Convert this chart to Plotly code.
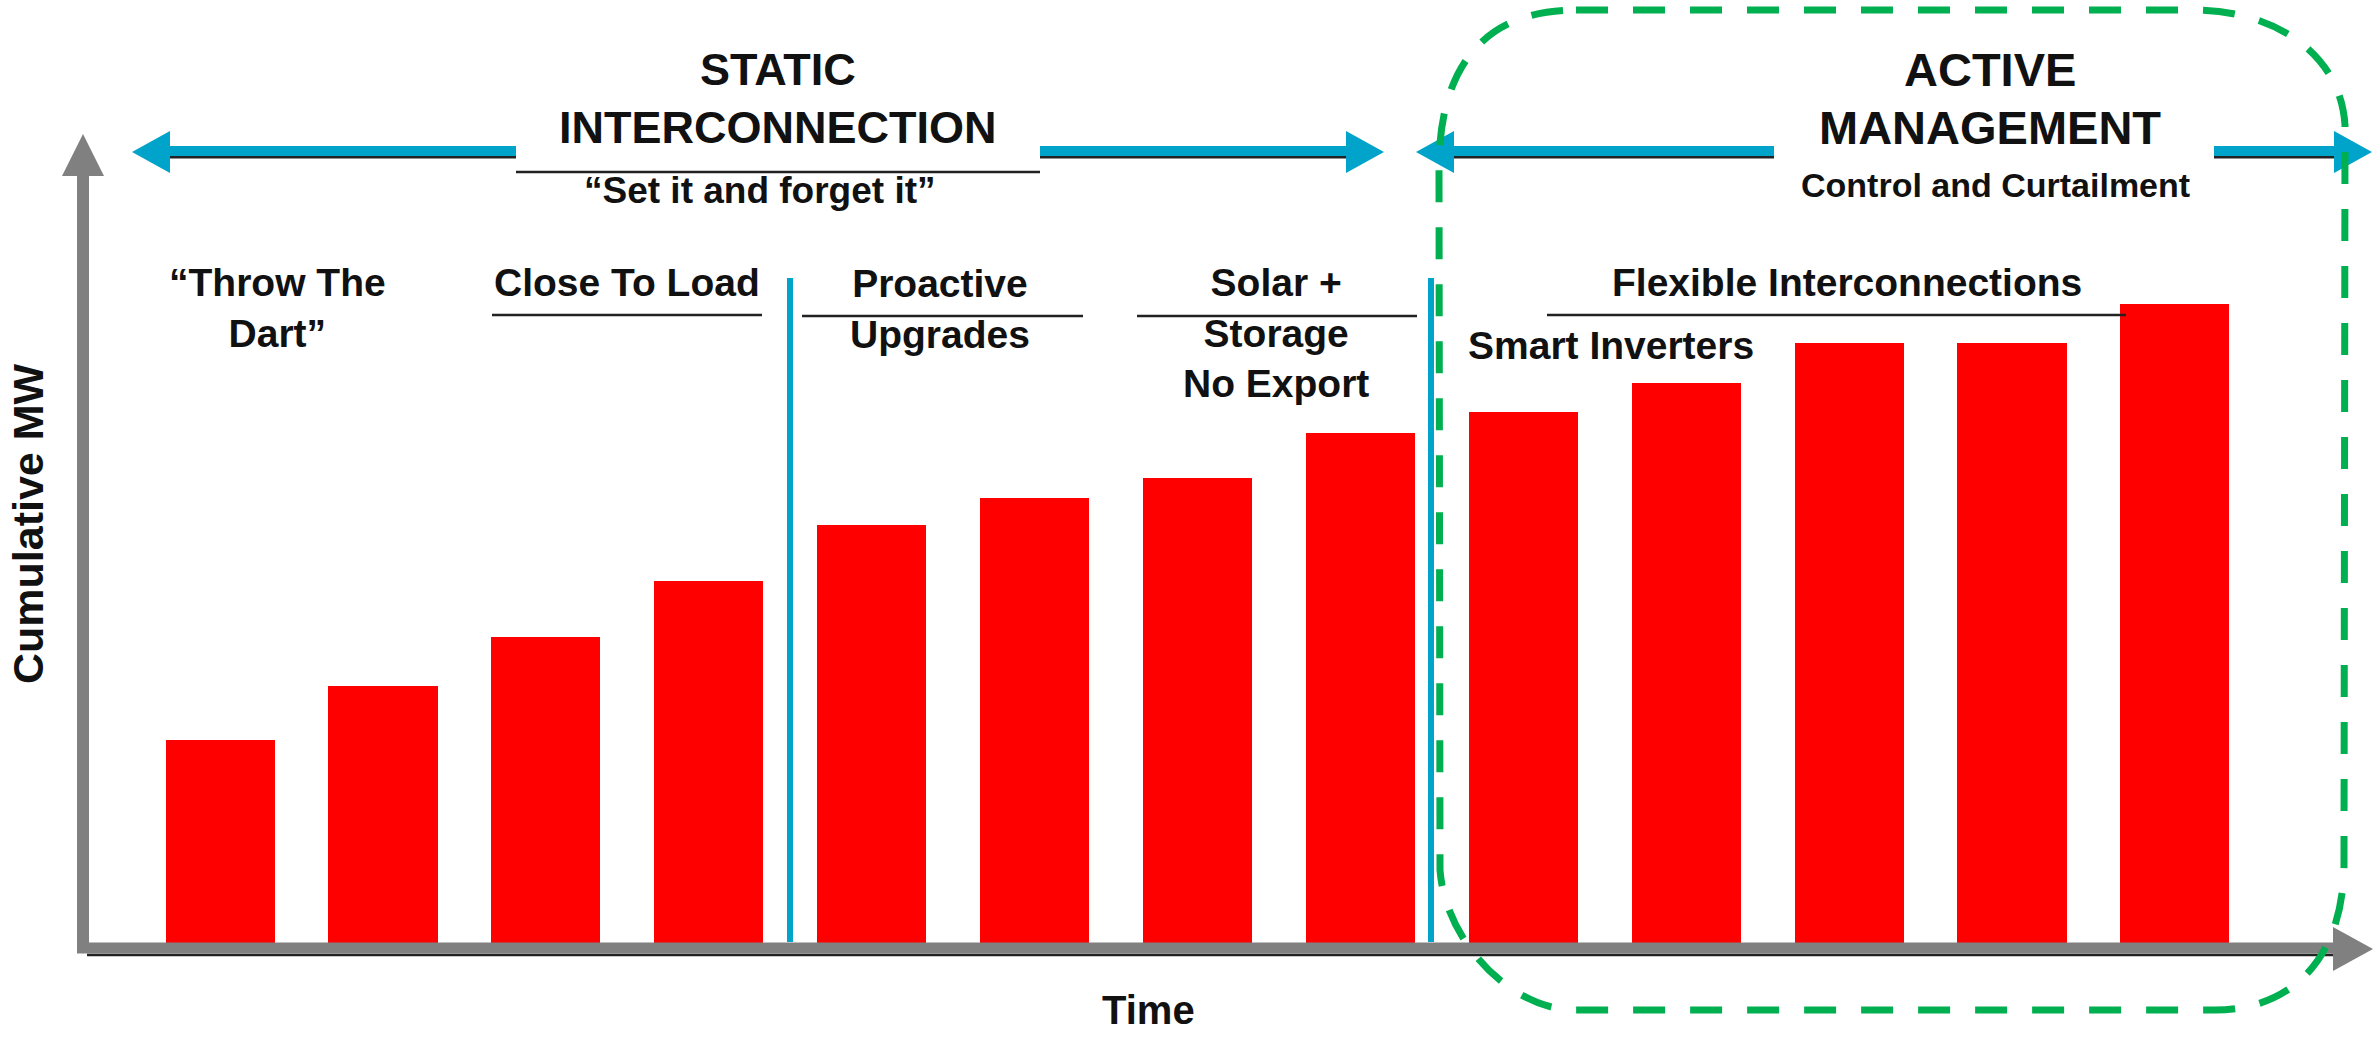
import plotly.graph_objects as go

# ---------------- data ----------------
periods = list(range(1, 14))
cumulative_mw = [25.4, 32.1, 38.3, 45.3, 52.3, 55.6, 58.1, 63.8, 66.4, 70.0, 75.0, 75.0, 79.9]

era_titles = ["<b>STATIC</b>", "<b>INTERCONNECTION</b>", "<b>ACTIVE</b>", "<b>MANAGEMENT</b>"]
era_subtitles = ["<b>“Set it and forget it”</b>", "<b>Control and Curtailment</b>"]
phase_labels = [
    "<b>“Throw The<br>Dart”</b>",
    "<b>Close To Load</b>",
    "<b>Proactive<br>Upgrades</b>",
    "<b>Solar +<br>Storage<br>No Export</b>",
    "<b>Smart Inverters</b>",
    "<b>Flexible Interconnections</b>",
]
y_title = "<b>Cumulative MW</b>"
x_title = "<b>Time</b>"

# ---------------- canvas ----------------
W, H = 2374, 1038
RED = "#FF0000"
BLUE = "#00A3C9"
GREEN = "#00B050"
GRAY = "#808080"
DARK = "#222222"
FONT = "Liberation Sans, Arial, sans-serif"


def X(px):
    return px / W


def Y(py):
    return 1 - py / H


fig = go.Figure()
fig.add_trace(go.Bar(
    x=periods, y=cumulative_mw, width=0.67,
    marker=dict(color=RED, line=dict(width=0)),
    hoverinfo="skip", showlegend=False,
))

shapes = []


def line(x0, y0, x1, y1, color, width):
    shapes.append(dict(type="line", xref="paper", yref="paper",
                       x0=X(x0), y0=Y(y0), x1=X(x1), y1=Y(y1),
                       line=dict(color=color, width=width)))


def tri(pts, color):
    p = "M " + " L ".join(f"{X(a)},{Y(b)}" for a, b in pts) + " Z"
    shapes.append(dict(type="path", xref="paper", yref="paper", path=p,
                       fillcolor=color, line=dict(width=0)))


# gray axes
line(83, 953, 83, 172, GRAY, 12)
tri([(62, 176), (104, 176), (83, 134)], GRAY)
line(77, 948, 2334, 948, GRAY, 11)
line(87, 955, 2334, 955, DARK, 2.5)
tri([(2333, 927), (2333, 971), (2373, 949)], GRAY)

# blue era arrows (with dark shadow)
for x0, x1 in [(168, 516), (1040, 1348), (1452, 1774), (2214, 2336)]:
    line(x0, 157, x1, 157, DARK, 3)
    line(x0, 151, x1, 151, BLUE, 10)
tri([(132, 152), (170, 131), (170, 173)], BLUE)
tri([(1384, 152), (1346, 131), (1346, 173)], BLUE)
tri([(1416, 152), (1454, 131), (1454, 173)], BLUE)
tri([(2372, 152), (2334, 131), (2334, 173)], BLUE)

# blue dividers
line(790, 278, 790, 942, BLUE, 6)
line(1431, 278, 1431, 942, BLUE, 6)

# underlines
line(516, 172, 1040, 172, DARK, 2.5)
line(492, 315, 762, 315, DARK, 2.5)
line(802, 316, 1083, 316, DARK, 2.5)
line(1137, 316, 1417, 316, DARK, 2.5)
line(1547, 315, 2126, 315, DARK, 2.5)

# green dashed rounded region
pts = [
    ("M", [(1576, 10)]),
    ("L", [(2194, 10)]),
    ("C", [(2270, 10), (2340, 50), (2345, 125)]),
    ("L", [(2344, 860)]),
    ("C", [(2345, 960), (2290, 1010), (2215, 1010)]),
    ("L", [(1575, 1010)]),
    ("C", [(1510, 1010), (1445, 940), (1440, 870)]),
    ("L", [(1439, 165)]),
    ("C", [(1440, 60), (1490, 10), (1576, 10)]),
]
path = " ".join(cmd + " " + " ".join(f"{X(a)},{Y(b)}" for a, b in ps) for cmd, ps in pts)
shapes.append(dict(type="path", xref="paper", yref="paper", path=path,
                   line=dict(color=GREEN, width=7, dash="32px,25px")))

annotations = []


def text(s, px, py, size, angle=0):
    annotations.append(dict(text=s, x=X(px), y=Y(py), xref="paper", yref="paper",
                            xanchor="center", yanchor="middle", showarrow=False,
                            textangle=angle, font=dict(family=FONT, size=size, color="#111111")))


text(era_titles[0], 778, 69, 45)
text(era_titles[1], 778, 127, 45)
text(era_titles[2], 1990, 69, 47)
text(era_titles[3], 1990, 127, 47)
text(era_subtitles[0], 760, 190, 37)
text(era_subtitles[1], 1996, 185, 34)

text(phase_labels[0], 277, 308, 39)
text(phase_labels[1], 627, 283, 39)
text(phase_labels[2], 940, 309, 39)
text(phase_labels[3], 1276, 333, 39)
text(phase_labels[4], 1611, 345, 39)
text(phase_labels[5], 1847, 283, 39)

text(y_title, 28, 524, 43, angle=-90)
text(x_title, 1148, 1010, 40)

# map bars: period i at pixel 1195.8 + (i-7)*162.7; value 0 at pixel 943, 8 px per unit
x_lo = 7 - 1197.5 / 162.9
x_hi = 7 + (W - 1197.5) / 162.9
y_lo = -(H - 943) / 8
y_hi = 943 / 8

fig.update_layout(
    width=W, height=H, autosize=False,
    margin=dict(l=0, r=0, t=0, b=0, pad=0),
    paper_bgcolor="white", plot_bgcolor="white",
    xaxis=dict(range=[x_lo, x_hi], visible=False, fixedrange=True),
    yaxis=dict(range=[y_lo, y_hi], visible=False, fixedrange=True),
    shapes=shapes, annotations=annotations,
    bargap=0, showlegend=False,
)

fig.write_html("out.html", config={"displayModeBar": False},
               post_script="document.body.style.margin='0';document.body.style.overflow='hidden';")
